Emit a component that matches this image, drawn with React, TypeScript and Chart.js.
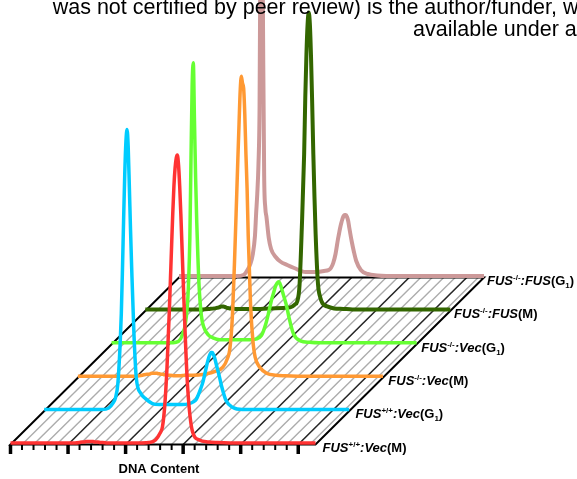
import React, { useEffect, useRef } from "react";
import { Chart, registerables } from "chart.js";

Chart.register(...registerables);

// DNA content channels shared by every histogram
const CHANNELS = [
  0, 10, 20, 30, 40, 50, 56, 60, 62, 64, 66, 67, 68, 69, 70, 71, 72, 73, 74, 75, 76, 78, 80, 84, 88, 94, 100, 110, 120, 126,
  130, 132, 134, 136, 138, 139, 140, 141, 142, 143, 144, 145, 146, 147, 148, 150, 152, 154, 158, 164, 172, 180, 200, 220, 240, 265,
];

// Cell counts per channel, one histogram per row (front row first)
const WT_VEC_M = [
  0, 0, 0, 0, 0, 0, 0, 0.5, 1, 1, 1.5, 1.5, 1.5, 1.5, 1.5, 1.5, 1.5, 1, 1, 1, 1, 0.5, 0.5, 0, 0, 0, 0, 0, 0.5, 3,
  10, 16, 37, 76, 132, 165, 198, 230, 257, 275, 285, 288, 278, 257, 229, 164, 102, 54, 12, 3, 1, 0.5, 0, 0, 0, 0,
];
const WT_VEC_G1 = [
  0, 0, 0, 0, 0, 0, 1.5, 7, 12, 26, 66, 96, 140, 190, 236, 268, 280, 262, 222, 180, 142, 75, 32, 16, 11, 6, 5, 5, 5, 6,
  8, 10, 15, 21, 28, 33, 38, 43, 48, 52, 55, 57, 57, 55, 52, 43, 34, 24, 9, 2, 0, 0, 0, 0, 0, 0,
];
const KO_VEC_M = [
  0, 0, 0, 0, 0, 0, 1, 2, 2, 3, 3, 3, 3, 3, 2.5, 2.5, 2, 2, 2, 1.5, 1.5, 1, 1, 0.5, 0.5, 1, 1, 2, 5, 9,
  18, 27, 55, 112, 182, 218, 252, 285, 300, 293, 288, 262, 222, 188, 140, 72, 36, 19, 9, 3, 1, 0.5, 0, 0, 0, 0,
];
const KO_VEC_G1 = [
  0, 0, 0, 0, 0, 0, 0.5, 4, 10, 18, 40, 64, 105, 185, 258, 280, 222, 165, 120, 85, 57, 27, 16, 8, 5, 3, 3, 3, 3, 4,
  7, 12, 19, 28, 38, 43, 47, 51, 55, 58, 60, 61, 60, 57, 53, 45, 37, 26, 9, 2, 0.5, 0, 0, 0, 0, 0,
];
const KO_FUS_M = [
  0, 0, 0, 0, 0, 0, 0.5, 1, 1.5, 2, 3, 3, 3, 2.5, 2, 1.5, 1.5, 1, 1, 1, 1, 0.5, 0.5, 0.5, 0.5, 0.5, 0.5, 1, 1.5, 2,
  5, 8, 24, 82, 155, 212, 255, 285, 297, 285, 252, 206, 155, 112, 75, 26, 12, 6, 3, 1, 0.5, 0, 0, 0, 0, 0,
];
const KO_FUS_G1 = [
  0, 0, 0, 0, 0, 0, 1, 7, 12, 21, 40, 62, 82, 110, 170, 380, 430, 250, 100, 68, 59, 38, 27, 19, 14.5, 11, 8, 4, 4, 5,
  6, 8, 13, 22, 36, 42, 48, 53, 57, 60, 61, 61, 59, 55, 48, 35, 24, 15, 6, 2, 0.5, 0, 0, 0, 0, 0,
];

const SERIES = [WT_VEC_M, WT_VEC_G1, KO_VEC_M, KO_VEC_G1, KO_FUS_M, KO_FUS_G1];
const SERIES_COLORS = ["#ff3333", "#00ccff", "#ff9933", "#66ff33", "#336600", "#cc9999"];
const SERIES_WIDTHS = [3.5, 3.5, 3.5, 3.5, 4, 4];

// Row labels: genotype superscript, construct, cell-cycle phase
const ROW_GENOTYPES = ["+/+", "+/+", "-/-", "-/-", "-/-", "-/-"];
const ROW_CONSTRUCTS = ["Vec", "Vec", "Vec", "Vec", "FUS", "FUS"];
const ROW_PHASES = ["M", "G1", "M", "G1", "M", "G1"];

const AXIS_TITLE = "DNA Content";
const CHANNEL_END = 265;
const MAJOR_TICKS = [0, 50, 100, 150, 200, 250];
const MINOR_TICKS = [10, 20, 30, 40, 60, 70, 80, 90, 110, 120, 130, 140, 160, 170, 180, 190, 210, 220, 230, 240];
const HATCH_CHANNELS = [
  10, 20, 30, 40, 50, 60, 70, 80, 90, 100, 110, 120, 130, 140, 150, 160, 170, 180, 190, 200, 210, 220, 230, 240, 250, 260,
];

// Depth offset between successive rows, in data units
const ROW_SHIFT_X = 29.28;
const ROW_SHIFT_Y = 33.4;
const FLOOR_DROP = -1.5;

const X_MIN = -9.12;
const X_MAX = 492.2;
const Y_MIN = -36;
const Y_MAX = 443;

const FONT = '"Liberation Sans", Arial, Helvetica, sans-serif';

const HEADER_LINES = [
  { text: "was not certified by peer review) is the author/funder, who has granted bioRxiv a license", x: 52.7, y: 14.3 },
  { text: "available under aCC-BY 4.0 International license.", x: 413, y: 35.5 },
];

function drawRich(ctx: CanvasRenderingContext2D, x: number, y: number, parts: { t: string; f: string; dy?: number }[]) {
  let cx = x;
  for (const p of parts) {
    ctx.font = p.f;
    ctx.fillText(p.t, cx, y + (p.dy || 0));
    cx += ctx.measureText(p.t).width;
  }
}

const floorPlugin = {
  id: "floor",
  beforeDatasetsDraw(chart: any) {
    const { ctx } = chart;
    const xs = chart.scales.x;
    const ys = chart.scales.y;
    const back = SERIES.length - 1;
    const pt = (ch: number, row: number, lift = FLOOR_DROP) => [
      xs.getPixelForValue(ch + row * ROW_SHIFT_X),
      ys.getPixelForValue(row * ROW_SHIFT_Y + lift),
    ];
    ctx.save();
    ctx.lineCap = "butt";
    // hatch running from the front row to the back row
    for (const ch of HATCH_CHANNELS) {
      const [x0, y0] = pt(ch, 0);
      const [x1, y1] = pt(ch, back);
      const major = ch % 50 === 0;
      ctx.strokeStyle = major ? "#262626" : "#acacac";
      ctx.lineWidth = major ? 1.6 : 1.4;
      ctx.beginPath();
      ctx.moveTo(x0, y0);
      ctx.lineTo(x1, y1);
      ctx.stroke();
    }
    // floor outline
    const a = pt(0, 0);
    const b = pt(CHANNEL_END, 0);
    const c = pt(CHANNEL_END, back);
    const d = pt(0, back);
    ctx.strokeStyle = "#000";
    ctx.lineWidth = 2;
    ctx.lineJoin = "miter";
    ctx.beginPath();
    ctx.moveTo(a[0], a[1]);
    ctx.lineTo(b[0], b[1]);
    ctx.lineTo(c[0], c[1]);
    ctx.lineTo(d[0], d[1]);
    ctx.closePath();
    ctx.stroke();
    // ticks on the front edge
    const base = ys.getPixelForValue(0);
    ctx.strokeStyle = "#000";
    for (const t of MAJOR_TICKS) {
      const px = xs.getPixelForValue(t);
      ctx.lineWidth = 3.5;
      ctx.beginPath();
      ctx.moveTo(px, base + 2);
      ctx.lineTo(px, base + 11);
      ctx.stroke();
    }
    for (const t of MINOR_TICKS) {
      const px = xs.getPixelForValue(t);
      ctx.lineWidth = 2;
      ctx.beginPath();
      ctx.moveTo(px, base + 2);
      ctx.lineTo(px, base + 7);
      ctx.stroke();
    }
    ctx.restore();
  },
  afterDatasetsDraw(chart: any) {
    const { ctx } = chart;
    const xs = chart.scales.x;
    const ys = chart.scales.y;
    ctx.save();
    ctx.fillStyle = "#000";
    ctx.textBaseline = "alphabetic";
    ctx.textAlign = "left";
    const big = `bold 13px ${FONT}`;
    const bigIt = `italic bold 13px ${FONT}`;
    const small = `bold 8px ${FONT}`;
    ROW_PHASES.forEach((phase, r) => {
      const x = xs.getPixelForValue(CHANNEL_END + r * ROW_SHIFT_X) + 7 - 0.8 * r;
      const y = ys.getPixelForValue(r * ROW_SHIFT_Y) + 8.8;
      const parts: { t: string; f: string; dy?: number }[] = [
        { t: "FUS", f: bigIt },
        { t: ROW_GENOTYPES[r], f: small, dy: -5 },
        { t: ":" + ROW_CONSTRUCTS[r], f: bigIt },
      ];
      if (phase === "G1") {
        parts.push({ t: "(G", f: big }, { t: "1", f: small, dy: 3 }, { t: ")", f: big });
      } else {
        parts.push({ t: `(${phase})`, f: big });
      }
      drawRich(ctx, x, y, parts);
    });
    // axis title
    ctx.font = `bold 13px ${FONT}`;
    ctx.textAlign = "center";
    ctx.fillText(AXIS_TITLE, xs.getPixelForValue(129), ys.getPixelForValue(0) + 30);
    ctx.restore();
  },
  afterDraw(chart: any) {
    const { ctx } = chart;
    ctx.save();
    ctx.fillStyle = "#000";
    ctx.font = `21.5px ${FONT}`;
    ctx.textAlign = "left";
    ctx.textBaseline = "alphabetic";
    for (const line of HEADER_LINES) ctx.fillText(line.text, line.x, line.y);
    ctx.restore();
  },
};

export default function App() {
  const ref = useRef<HTMLCanvasElement | null>(null);
  useEffect(() => {
    if (!ref.current) return;
    const datasets = SERIES.map((counts, r) => ({
      label: `${ROW_CONSTRUCTS[r]} ${ROW_PHASES[r]}`,
      data: CHANNELS.map((ch, i) => ({ x: ch + r * ROW_SHIFT_X, y: counts[i] + r * ROW_SHIFT_Y })),
      borderColor: SERIES_COLORS[r],
      borderWidth: SERIES_WIDTHS[r],
      fill: false,
      pointRadius: 0,
      cubicInterpolationMode: "monotone" as const,
    }));
    const chart = new Chart(ref.current, {
      type: "line",
      data: { datasets },
      options: {
        animation: false,
        responsive: false,
        devicePixelRatio: 1,
        events: [],
        layout: { padding: 0 },
        plugins: { legend: { display: false }, tooltip: { enabled: false }, title: { display: false } },
        scales: {
          x: { type: "linear", display: false, min: X_MIN, max: X_MAX },
          y: { type: "linear", display: false, min: Y_MIN, max: Y_MAX },
        },
        elements: { line: { borderCapStyle: "butt", borderJoinStyle: "round" } },
      },
      plugins: [floorPlugin],
    });
    return () => chart.destroy();
  }, []);
  return (
    <div style={{ position: "absolute", left: 0, top: 0, width: 577, height: 479, background: "#fff" }}>
      <canvas ref={ref} width={577} height={479} style={{ display: "block" }} />
    </div>
  );
}
